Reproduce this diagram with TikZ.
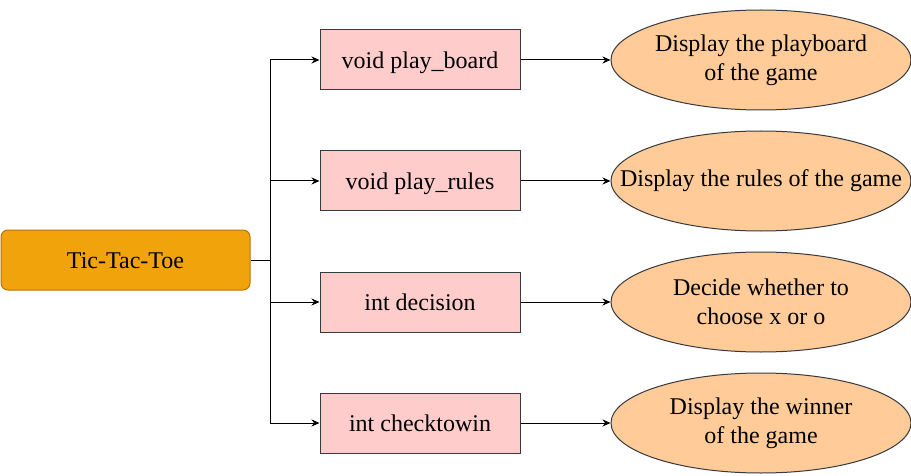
\documentclass[tikz,border=0pt]{standalone}
\usepackage{fontspec}
\setmainfont{Liberation Serif}
\newfontfamily\diagfont{Liberation Serif}
\usepackage{xcolor}
\usetikzlibrary{arrows.meta,shapes,positioning}

\definecolor{rootfill}{HTML}{F0A30A}
\definecolor{rootline}{HTML}{BD7000}
\definecolor{funcfill}{HTML}{FFCCCC}
\definecolor{descfill}{HTML}{FFCC99}
\definecolor{darkline}{HTML}{36393D}

\begin{document}
\begin{tikzpicture}[x=1pt, y=-1pt, >={Stealth[length=8pt,width=7pt]}, line width=1pt, node distance=60pt,
  root/.style={draw=rootline, fill=rootfill, rounded corners=7pt, minimum width=249pt, minimum height=60pt, inner sep=0pt, text height=21.4pt, text depth=5.2pt},
  func/.style={draw=darkline, fill=funcfill, minimum width=200pt, minimum height=60pt, inner sep=0pt, text height=21.4pt, text depth=5.2pt},
  desc/.style={ellipse, draw=darkline, fill=descfill, minimum width=300pt, minimum height=100pt, inner xsep=-40pt, inner ysep=0pt, align=center},
  every node/.style={font=\diagfont\fontsize{24pt}{29pt}\selectfont}]

\useasboundingbox (0,0) rectangle (911,476);

\node[root] (ttt) at (125.5,260) {Tic-Tac-Toe};

\node[func] (f1) at (420,60) {void play\_board};
\node[func] (f2) [below=of f1] {void play\_rules};
\node[func] (f3) [below=of f2] {int decision};
\node[func] (f4) [below=of f3] {int checktowin};

\node[desc] (d1) [right=90pt of f1] {Display the playboard\\of the game};
\node[desc] (d2) [right=90pt of f2] {Display the rules of the game};
\node[desc] (d3) [right=90pt of f3] {Decide whether to\\choose x or o};
\node[desc] (d4) [right=90pt of f4] {Display the winner\\of the game};

\coordinate (j) at (270,260);
\draw (ttt.east) -- (j);
\foreach \i in {1,...,4} {
  \draw[->] (j) |- (f\i.west);
  \draw[->] (f\i.east) -- (d\i.west);
}
\end{tikzpicture}
\end{document}
